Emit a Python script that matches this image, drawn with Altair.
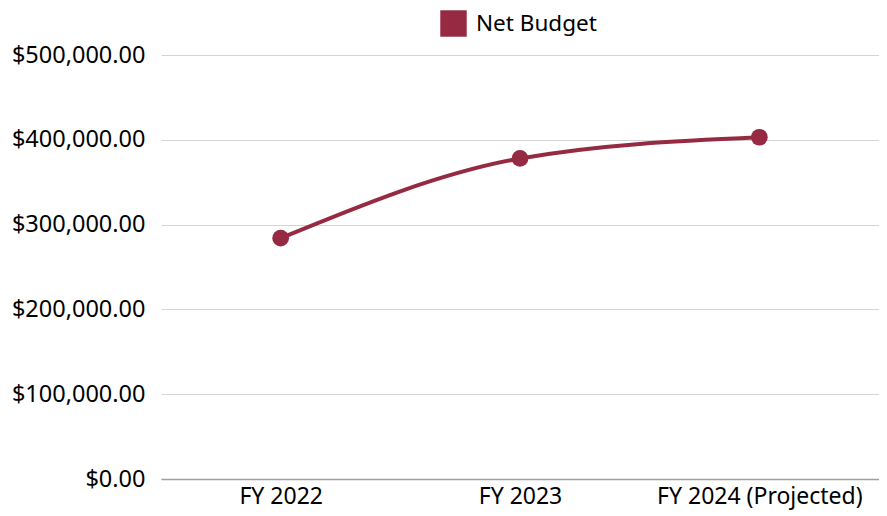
import altair as alt
import pandas as pd

categories = ["FY 2022", "FY 2023", "FY 2024 (Projected)"]
net_budget = [284000, 378000, 403000]
series_name = "Net Budget"
y_ticks = [0, 100000, 200000, 300000, 400000, 500000]

df = pd.DataFrame({"year": categories, "value": net_budget, "series": [series_name] * len(categories)})

color = "#962a43"
FONT = "Noto Sans"

x = alt.X("year:N", sort=categories, title=None,
          scale=alt.Scale(paddingInner=0, paddingOuter=0),
          axis=alt.Axis(labelAngle=0, ticks=False, domain=True, domainColor="#a0a0a0",
                        domainWidth=1.5, labelFontSize=23, labelColor="#000000",
                        labelFont=FONT, labelPadding=6, grid=False,
                        labelLimit=400, labelOverlap=False))
y = alt.Y("value:Q", title=None,
          scale=alt.Scale(domain=[0, 500000], nice=False),
          axis=alt.Axis(values=y_ticks, format="$,.2f", ticks=False, domain=False,
                        labelFontSize=23.5, labelColor="#000000", labelFont=FONT,
                        labelPadding=16, gridColor="#d4d4d4", gridWidth=1.2,
                        labelLimit=400))
c = alt.Color("series:N", scale=alt.Scale(range=[color]), title=None)

line = alt.Chart(df).mark_line(interpolate="monotone", strokeWidth=4, color=color).encode(
    x=x, y=y
)
points = alt.Chart(df).mark_point(filled=True, size=280, opacity=1, shape="circle").encode(
    x=x, y=y,
    color=c.legend(orient="none", legendX=279, legendY=-45, symbolType="square",
                   symbolSize=700, labelFontSize=22.5, labelFont=FONT, labelColor="#000000",
                   symbolStrokeWidth=0, labelOffset=9, symbolOpacity=1, labelLimit=400),
)

chart = (line + points).properties(
    width=718, height=424,
    autosize=alt.AutoSizeParams(type="none"),
    padding={"left": 153, "top": 47, "right": 0, "bottom": 38},
).configure(font=FONT).configure_view(stroke=None)

chart.save("out.html", embed_options={"renderer": "svg", "actions": False})
